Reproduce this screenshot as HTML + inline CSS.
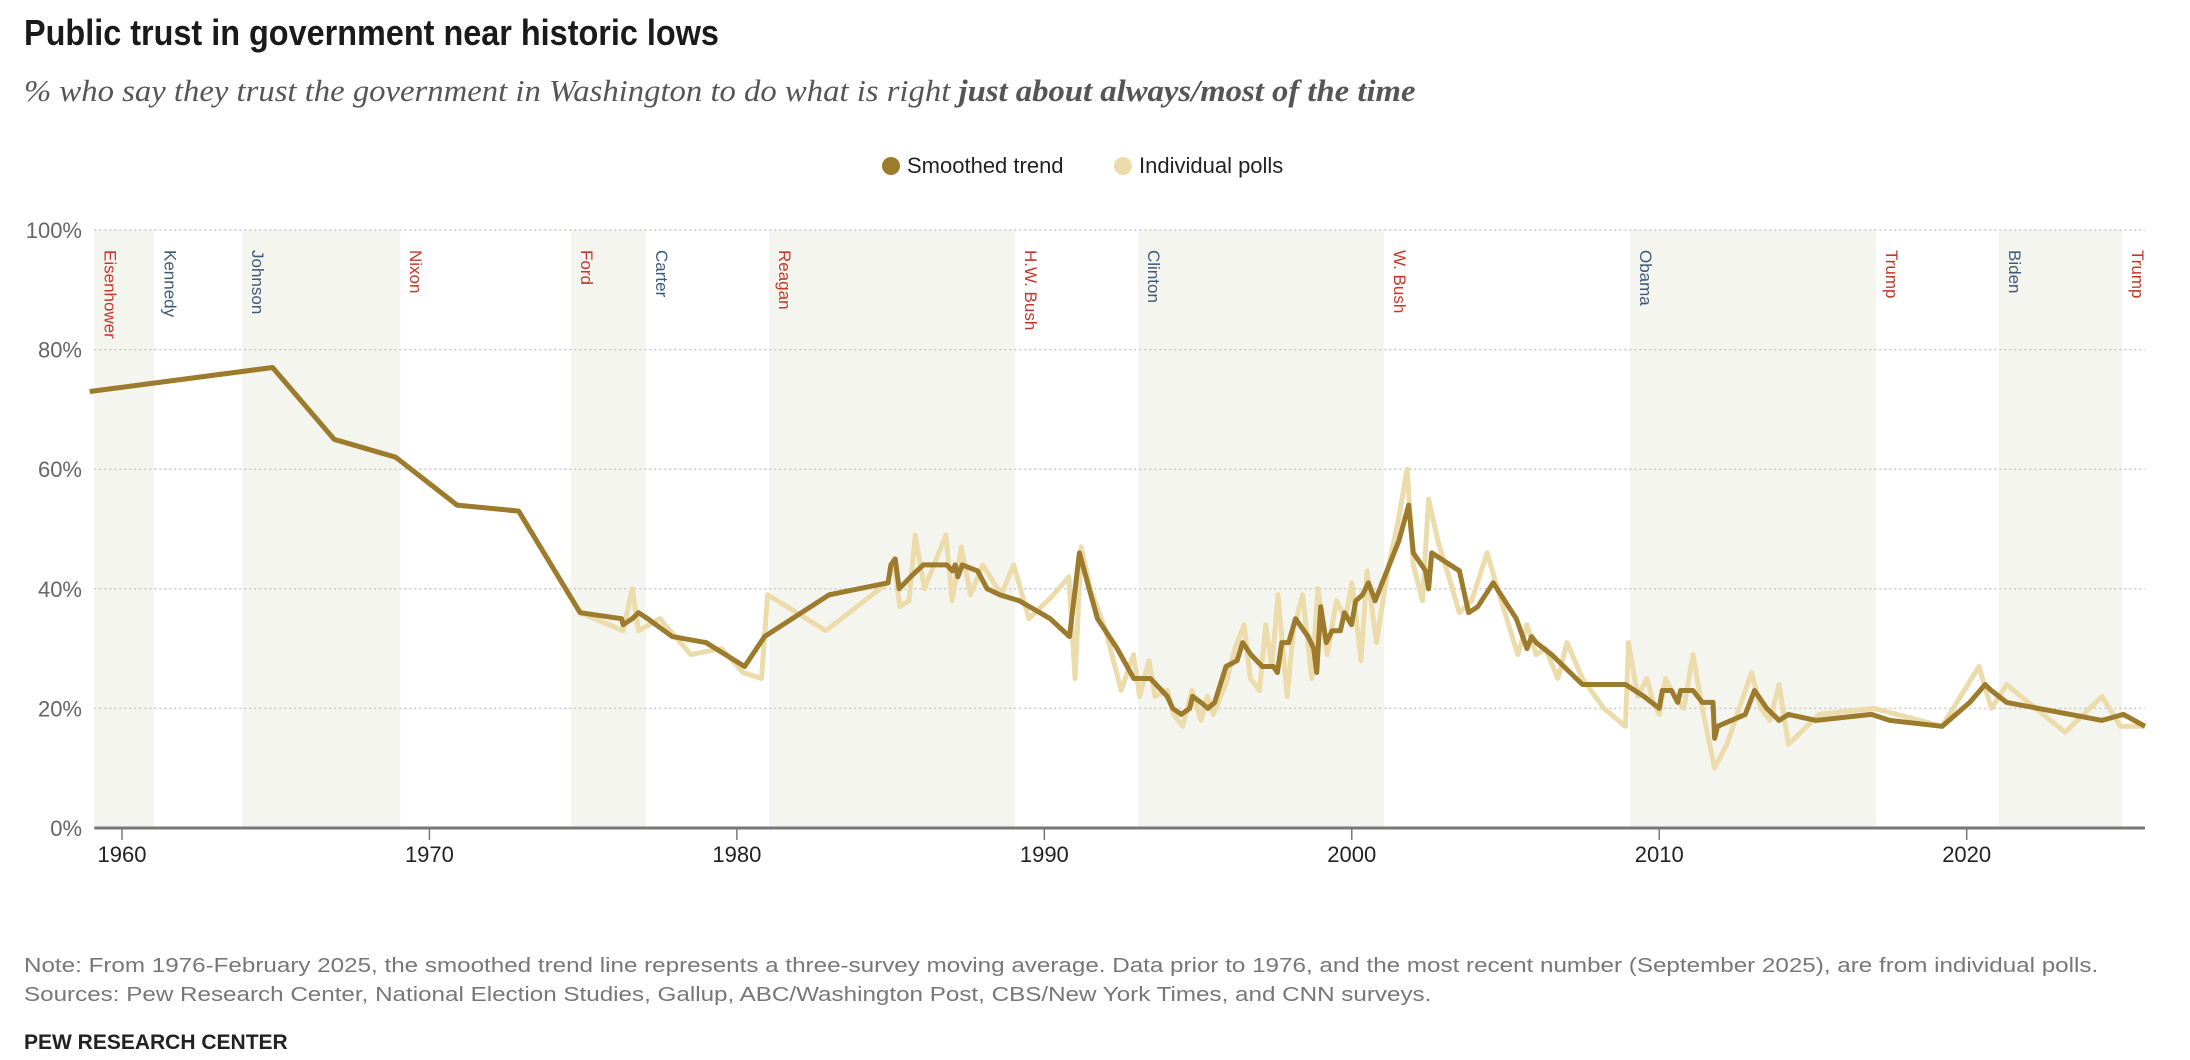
<!DOCTYPE html>
<html><head><meta charset="utf-8">
<style>
body{margin:0;background:#fff;width:2190px;height:1060px;overflow:hidden;font-family:"Liberation Sans",sans-serif;}
.t{position:absolute;left:24px;top:12px;font-size:36px;font-weight:bold;color:#1a1a1a;transform:scaleX(0.9);transform-origin:left;white-space:nowrap;}
.s{position:absolute;left:24px;top:73px;font-family:"Liberation Serif",serif;font-style:italic;font-size:31px;color:#555;white-space:nowrap;transform:scaleX(1.055);transform-origin:left;}
.n{position:absolute;left:24px;font-size:20px;color:#777;white-space:nowrap;transform:scaleX(1.21);transform-origin:left;}
</style></head><body>
<div class="t">Public trust in government near historic lows</div>
<div class="s">% who say they trust the government in Washington to do what is right <b>just about always/most of the time</b></div>
<svg id="c" width="2190" height="900" style="position:absolute;left:0;top:0"></svg>
<div class="n" style="top:955px">Note: From 1976-February 2025, the smoothed trend line represents a three-survey moving average. Data prior to 1976, and the most recent number (September 2025), are from individual polls.</div>
<div class="n" style="top:984px">Sources: Pew Research Center, National Election Studies, Gallup, ABC/Washington Post, CBS/New York Times, and CNN surveys.</div>
<div class="n" style="top:1031px;color:#222;font-weight:bold;font-size:21px;transform:scaleX(1.0)">PEW RESEARCH CENTER</div>
<script>
const presNames=["Eisenhower","Kennedy","Johnson","Nixon","Ford","Carter","Reagan","H.W. Bush","Clinton","W. Bush","Obama","Trump","Biden","Trump"];
const presStart=[1959.1,1961.05,1963.9,1969.05,1974.6,1977.05,1981.05,1989.05,1993.05,2001.05,2009.05,2017.05,2021.05,2025.05];
const presParty=["R","D","D","R","R","D","R","R","D","R","D","R","D","R"];
const yTicks=[0,20,40,60,80,100];
const xTicks=[1960,1970,1980,1990,2000,2010,2020];
const smYears=[1958.95,1964.9,1966.9,1968.9,1970.9,1972.9,1974.9,1976.25,1976.3,1976.6,1976.8,1977.1,1977.9,1979.0,1980.25,1980.9,1983.0,1984.92,1985.01,1985.15,1985.28,1985.65,1986.06,1986.83,1987.01,1987.1,1987.19,1987.33,1987.83,1988.14,1988.55,1989.19,1990.19,1990.82,1991.14,1991.46,1991.73,1992.37,1992.91,1993.45,1994.0,1994.18,1994.45,1994.73,1994.82,1995.09,1995.32,1995.54,1995.91,1996.27,1996.45,1996.72,1997.09,1997.45,1997.58,1997.72,1997.95,1998.17,1998.58,1998.76,1998.86,1998.99,1999.17,1999.36,1999.63,1999.76,1999.99,2000.13,2000.35,2000.54,2000.76,2001.53,2001.85,2002.0,2002.4,2002.5,2002.6,2003.5,2003.8,2004.1,2004.6,2005.35,2005.7,2005.85,2006.0,2006.5,2006.9,2007.5,2008.9,2009.5,2010.0,2010.1,2010.4,2010.6,2010.7,2011.1,2011.4,2011.75,2011.8,2011.9,2012.8,2013.1,2013.5,2013.9,2014.2,2015.1,2016.9,2017.5,2019.2,2020.1,2020.6,2020.8,2021.3,2024.4,2025.1,2025.8];
const smValues=[73,77,65,62,54,53,36,35,34,35,36,35,32,31,27,32,39,41,44,45,40,42,44,44,43,44,42,44,43,40,39,38,35,32,46,40,35,30,25,25,22,20,19,20,22,21,20,21,27,28,31,29,27,27,26,31,31,35,32,30,26,37,31,33,33,36,34,38,39,41,38,48,54,46,43,40,46,43,36,37,41,35,30,32,31,29,27,24,24,22,20,23,23,21,23,23,21,21,15,17,19,23,20,18,19,18,19,18,17,21,24,23,21,18,19,17];
const plYears=[1958.95,1964.9,1966.9,1968.9,1970.9,1972.9,1974.9,1976.3,1976.6,1976.8,1977.5,1978.5,1979.5,1980.2,1980.8,1981.0,1982.9,1984.9,1985.1,1985.3,1985.6,1985.8,1986.1,1986.8,1987.0,1987.3,1987.6,1988.0,1988.6,1989.0,1989.5,1990.3,1990.8,1991.0,1991.2,1991.5,1992.0,1992.5,1992.9,1993.1,1993.4,1993.6,1994.0,1994.2,1994.5,1994.8,1995.1,1995.3,1995.5,1995.9,1996.2,1996.5,1996.7,1997.0,1997.2,1997.4,1997.6,1997.9,1998.1,1998.4,1998.7,1998.9,1999.2,1999.5,1999.8,2000.0,2000.3,2000.5,2000.8,2001.2,2001.5,2001.8,2002.0,2002.3,2002.5,2002.8,2003.1,2003.5,2003.9,2004.4,2004.8,2005.1,2005.4,2005.7,2006.0,2006.3,2006.7,2007.0,2007.5,2008.2,2008.9,2009.0,2009.3,2009.6,2009.8,2010.0,2010.2,2010.5,2010.8,2011.1,2011.4,2011.8,2012.2,2012.6,2013.0,2013.3,2013.6,2013.9,2014.2,2015.2,2017.0,2019.2,2020.4,2020.8,2021.3,2023.2,2024.4,2025.0,2025.8];
const plValues=[73,77,65,62,54,53,36,33,40,33,35,29,30,26,25,39,33,41,45,37,38,49,40,49,38,47,39,44,39,44,35,39,42,25,47,40,33,23,29,22,28,22,23,19,17,23,18,22,19,24,30,34,25,23,34,27,39,22,33,39,25,40,29,38,35,41,28,43,31,44,51,60,44,38,55,48,43,36,38,46,39,34,29,34,29,30,25,31,25,20,17,31,22,25,21,19,25,22,20,29,20,10,14,20,26,20,18,24,14,19,20,17,27,20,24,16,22,17,17];

const NS="http://www.w3.org/2000/svg";
const svg=document.getElementById('c');
const X0=94.3,X1=2145,Y0=828,Y1=230,D0=1959.1,D1=2025.8;
const xs=v=>X0+(v-D0)/(D1-D0)*(X1-X0);
const ys=v=>Y0+(v/100)*(Y1-Y0);
function mk(tag,attrs){const e=document.createElementNS(NS,tag);for(const k in attrs)e.setAttribute(k,attrs[k]);svg.appendChild(e);return e;}
let e;
e=mk('circle',{cx:891,cy:166,r:9,fill:'#9c7b2c'});


e=mk('text',{x:907,y:173,'font-size':22,fill:'#222'});e.textContent='Smoothed trend';


e=mk('circle',{cx:1123,cy:166,r:9,fill:'#ecdcab'});


e=mk('text',{x:1139,y:173,'font-size':22,fill:'#222'});e.textContent='Individual polls';


presStart.forEach((s,i)=>{
  const end=i+1<presStart.length?presStart[i+1]:D1;
  if(i%2===0&&i<13){const b=mk('rect',{x:xs(s),y:Y1,width:xs(Math.min(end,D1))-xs(s),height:Y0-Y1,fill:'#f5f5ef'});
    
    }
});
presStart.forEach((s,i)=>{
  const x=xs(s)+10,y=Y1+20;
  const t=mk('text',{x:x,y:y,'font-size':17,fill:presParty[i]==='R'?'#c8352a':'#3c5a78',transform:`rotate(90 ${x} ${y})`});
  t.textContent=presNames[i];
  
  
});
yTicks.forEach(v=>{
  if(v>0){const g=mk('line',{x1:X0,x2:X1,y1:ys(v),y2:ys(v),stroke:'#c8c8c8','stroke-width':1.5,'stroke-dasharray':'2 3'});
    
    }
  const t=mk('text',{x:82,y:ys(v)+8,'font-size':22,fill:'#666','text-anchor':'end'});t.textContent=v+'%';
  
  
});
function path(xsArr,vals,color,name){
  const d=xsArr.map((x,i)=>(i?'L':'M')+xs(x).toFixed(1)+','+ys(vals[i]).toFixed(1)).join('');
  const p=mk('path',{d:d,fill:'none',stroke:color,'stroke-width':5,'stroke-linejoin':'round'});
  
  
}
path(plYears,plValues,'#ecdcab','individual-polls-line');
path(smYears,smValues,'#9c7b2c','smoothed-trend-line');
e=mk('line',{x1:X0,x2:X1,y1:Y0,y2:Y0,stroke:'#777','stroke-width':3});


xTicks.forEach(v=>{
  const l=mk('line',{x1:xs(v),x2:xs(v),y1:Y0,y2:Y0+12,stroke:'#777','stroke-width':1.5});
  
  
  const t=mk('text',{x:xs(v),y:Y0+34,'font-size':22,fill:'#222','text-anchor':'middle'});t.textContent=v;
  
  
});
</script>
</body></html>
